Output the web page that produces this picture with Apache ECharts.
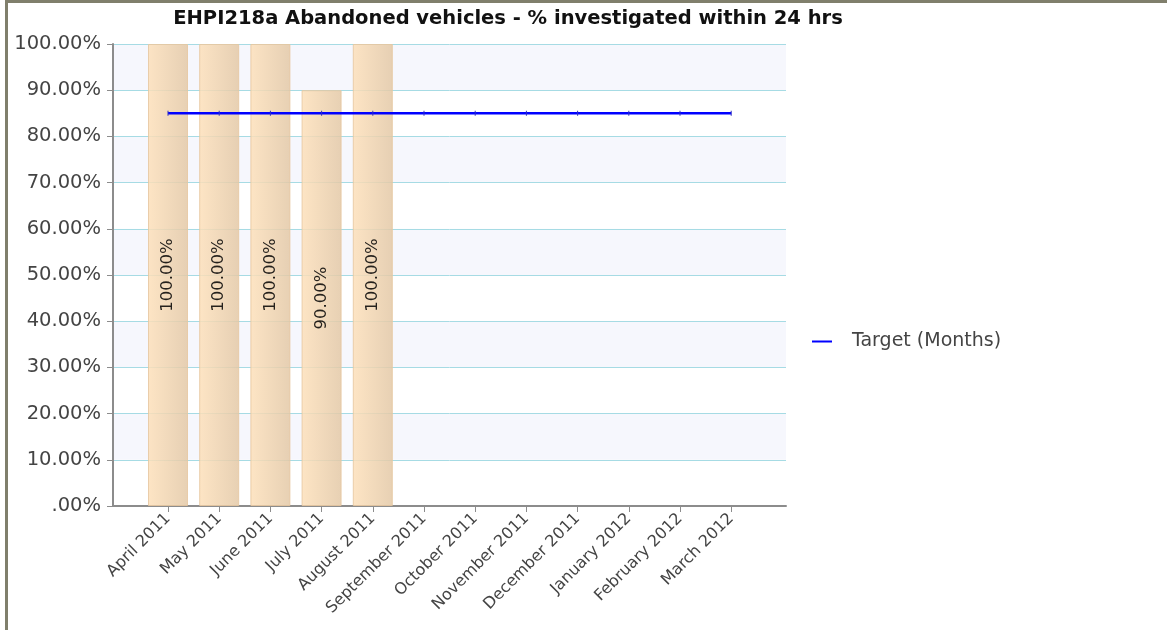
<!DOCTYPE html>
<html>
<head>
<meta charset="utf-8">
<script src="https://cdn.jsdelivr.net/npm/echarts@6/dist/echarts.min.js"></script>
<style>
html,body{margin:0;padding:0;background:#fff;}
#frame{position:absolute;left:5px;top:0;width:1162px;height:630px;border-left:3px solid #807f6c;border-top:3px solid #807f6c;box-sizing:border-box;}
#chart{position:absolute;left:0;top:0;width:1167px;height:630px;}
</style>
</head>
<body>
<div id="frame"></div>
<div id="chart"></div>
<script>
var titleText = 'EHPI218a Abandoned vehicles - % investigated within 24 hrs';
var categories = ['April 2011','May 2011','June 2011','July 2011','August 2011','September 2011','October 2011','November 2011','December 2011','January 2012','February 2012','March 2012'];
var actualValues = [100, 100, 100, 90, 100, null, null, null, null, null, null, null];
var targetValues = [85, 85, 85, 85, 85, 85, 85, 85, 85, 85, 85, 85];
var targetName = 'Target (Months)';

var font = 'DejaVu Sans';
var chart = echarts.init(document.getElementById('chart'), null, {renderer:'canvas'});
var yMin = 0, yMax = 100;
chart.setOption({
  animation:false,
  title:{text:titleText,left:503,top:4,textAlign:'center',textStyle:{fontFamily:font,fontWeight:'bold',fontSize:19.5,color:'#111'}},
  legend:{data:[{name:targetName,icon:'path://M0,0L20,0L20,2L0,2Z',itemStyle:{color:'#0000ff'}}],orient:'vertical',left:812,top:332,padding:0,itemWidth:20,itemHeight:2,itemGap:10,
    textStyle:{fontFamily:font,fontSize:19,color:'#444',padding:[0,0,0,15]}},
  grid:[
    {left:113,right:381,top:44,bottom:124},
    {left:142.4,right:410.2,top:44,bottom:124}
  ],
  xAxis:[
    {type:'value',gridIndex:0,min:0,max:1,axisLine:{show:true,onZero:false,lineStyle:{color:'#8c8c8c',width:2}},axisTick:{show:false},axisLabel:{show:false},splitLine:{show:false}},
    {type:'category',gridIndex:1,data:categories,axisLine:{show:false},splitLine:{show:false},
      axisTick:{show:true,alignWithLabel:true,length:6,lineStyle:{color:'#8c8c8c',width:1}},
      axisLabel:{rotate:45,fontFamily:font,fontSize:16,color:'#444',margin:10,interval:0}}
  ],
  yAxis:[
    {type:'value',gridIndex:0,min:yMin,max:yMax,interval:10,
      axisLine:{show:true,lineStyle:{color:'#8c8c8c',width:2}},
      axisTick:{show:true,length:6,lineStyle:{color:'#8c8c8c'}},
      axisLabel:{fontFamily:font,fontSize:19.5,color:'#444',margin:12,formatter:function(v){return v===0?'.00%':v.toFixed(2)+'%';}},
      splitLine:{show:true,lineStyle:{color:'#a6dbe4',width:1}},
      splitArea:{show:true,areaStyle:{color:['#ffffff','#f6f7fd']}}},
    {type:'value',gridIndex:1,min:yMin,max:yMax,show:false,splitLine:{show:false},splitArea:{show:false}}
  ],
  series:[
    {name:'Actual',type:'bar',xAxisIndex:1,yAxisIndex:1,data:actualValues,barWidth:40,
      itemStyle:{opacity:0.85,borderColor:'#e6c7a0',borderWidth:1,color:new echarts.graphic.LinearGradient(0,0,1,0,[{offset:0,color:'#fde0ba'},{offset:1,color:'#e3c8a6'}])},
      label:{show:true,position:'inside',rotate:90,fontFamily:font,fontSize:16.5,color:'#000',formatter:function(p){return p.value.toFixed(2)+'%';}}},
    {name:targetName,type:'line',xAxisIndex:1,yAxisIndex:1,data:targetValues,
      symbol:'rect',symbolSize:[1,5],itemStyle:{color:'#3030c0'},
      lineStyle:{color:'#0000ff',width:2.5},z:5}
  ]
});
</script>
</body>
</html>
